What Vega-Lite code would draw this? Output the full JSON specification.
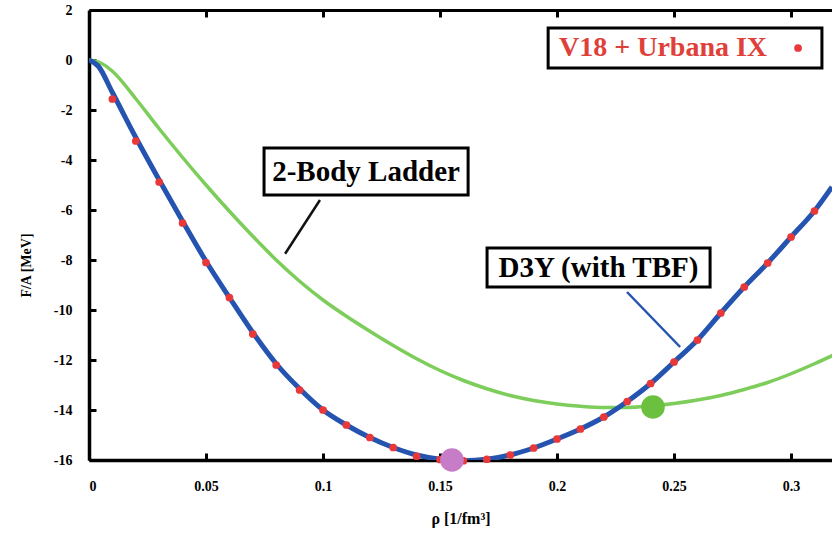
{
  "$schema": "https://vega.github.io/schema/vega-lite/v6.json",
  "width": 743,
  "height": 450,
  "autosize": "none",
  "padding": {"left": 89, "top": 10, "right": 0, "bottom": 82},
  "background": "white",
  "config": {
    "view": {"stroke": null},
    "axis": {"grid": false, "labelFont": "Liberation Serif", "labelFontWeight": "bold", "labelFontSize": 14, "labelColor": "black", "titleFont": "Liberation Serif", "titleFontWeight": "bold", "titleColor": "black"}
  },
  "datasets": {
    "v18": [
      {"rho": 0.01, "E": -1.56}, {"rho": 0.02, "E": -3.24}, {"rho": 0.03, "E": -4.88}, {"rho": 0.04, "E": -6.52},
      {"rho": 0.05, "E": -8.1}, {"rho": 0.06, "E": -9.5}, {"rho": 0.07, "E": -10.96}, {"rho": 0.08, "E": -12.2},
      {"rho": 0.09, "E": -13.2}, {"rho": 0.10, "E": -14.0}, {"rho": 0.11, "E": -14.6}, {"rho": 0.12, "E": -15.1},
      {"rho": 0.13, "E": -15.5}, {"rho": 0.14, "E": -15.85}, {"rho": 0.15, "E": -15.98}, {"rho": 0.16, "E": -16.03},
      {"rho": 0.17, "E": -15.97}, {"rho": 0.18, "E": -15.8}, {"rho": 0.19, "E": -15.52}, {"rho": 0.20, "E": -15.16},
      {"rho": 0.21, "E": -14.76}, {"rho": 0.22, "E": -14.28}, {"rho": 0.23, "E": -13.66}, {"rho": 0.24, "E": -12.94},
      {"rho": 0.25, "E": -12.08}, {"rho": 0.26, "E": -11.2}, {"rho": 0.27, "E": -10.12}, {"rho": 0.28, "E": -9.08},
      {"rho": 0.29, "E": -8.12}, {"rho": 0.30, "E": -7.08}, {"rho": 0.31, "E": -6.04}
    ],
    "d3y": [
      {"rho": 0.0, "E": 0.0}, {"rho": 0.004, "E": -0.25}, {"rho": 0.01, "E": -1.3}, {"rho": 0.02, "E": -3.1},
      {"rho": 0.03, "E": -4.8}, {"rho": 0.04, "E": -6.45}, {"rho": 0.05, "E": -8.05}, {"rho": 0.06, "E": -9.5},
      {"rho": 0.07, "E": -10.9}, {"rho": 0.08, "E": -12.15}, {"rho": 0.09, "E": -13.15}, {"rho": 0.10, "E": -14.0},
      {"rho": 0.11, "E": -14.6}, {"rho": 0.12, "E": -15.1}, {"rho": 0.13, "E": -15.5}, {"rho": 0.14, "E": -15.8},
      {"rho": 0.15, "E": -15.97}, {"rho": 0.16, "E": -16.03}, {"rho": 0.17, "E": -15.97}, {"rho": 0.18, "E": -15.8},
      {"rho": 0.19, "E": -15.52}, {"rho": 0.20, "E": -15.16}, {"rho": 0.21, "E": -14.76}, {"rho": 0.22, "E": -14.28},
      {"rho": 0.23, "E": -13.66}, {"rho": 0.24, "E": -12.94}, {"rho": 0.25, "E": -12.08}, {"rho": 0.26, "E": -11.2},
      {"rho": 0.27, "E": -10.12}, {"rho": 0.28, "E": -9.08}, {"rho": 0.29, "E": -8.12}, {"rho": 0.30, "E": -7.08},
      {"rho": 0.31, "E": -6.04}, {"rho": 0.3175, "E": -5.08}
    ],
    "ladder": [
      {"rho": 0.0, "E": 0.0}, {"rho": 0.005, "E": -0.12}, {"rho": 0.01, "E": -0.45}, {"rho": 0.02, "E": -1.55},
      {"rho": 0.03, "E": -2.75}, {"rho": 0.04, "E": -3.9}, {"rho": 0.05, "E": -5.0}, {"rho": 0.06, "E": -6.05},
      {"rho": 0.07, "E": -7.05}, {"rho": 0.08, "E": -8.0}, {"rho": 0.09, "E": -8.85}, {"rho": 0.10, "E": -9.6},
      {"rho": 0.11, "E": -10.25}, {"rho": 0.12, "E": -10.85}, {"rho": 0.13, "E": -11.42}, {"rho": 0.14, "E": -11.95},
      {"rho": 0.15, "E": -12.42}, {"rho": 0.16, "E": -12.82}, {"rho": 0.17, "E": -13.15}, {"rho": 0.18, "E": -13.42},
      {"rho": 0.19, "E": -13.62}, {"rho": 0.20, "E": -13.76}, {"rho": 0.21, "E": -13.85}, {"rho": 0.22, "E": -13.9},
      {"rho": 0.23, "E": -13.9}, {"rho": 0.24, "E": -13.84}, {"rho": 0.25, "E": -13.74}, {"rho": 0.26, "E": -13.6},
      {"rho": 0.27, "E": -13.42}, {"rho": 0.28, "E": -13.18}, {"rho": 0.29, "E": -12.9}, {"rho": 0.30, "E": -12.55},
      {"rho": 0.31, "E": -12.15}, {"rho": 0.32, "E": -11.72}
    ],
    "saturation": [
      {"rho": 0.1551, "E": -16.0, "model": "D3Y"},
      {"rho": 0.241, "E": -13.88, "model": "Ladder"}
    ],
    "boxes": [
      {"x1": 0.0748, "x2": 0.162, "y1": -3.52, "y2": -5.4, "name": "ladder"},
      {"x1": 0.1701, "x2": 0.2654, "y1": -7.52, "y2": -9.08, "name": "d3y"},
      {"x1": 0.1962, "x2": 0.3132, "y1": 1.28, "y2": -0.32, "name": "legend"}
    ],
    "leaders": [
      {"x1": 0.0987, "y1": -5.6, "x2": 0.0838, "y2": -7.75, "name": "ladder"},
      {"x1": 0.2299, "y1": -9.28, "x2": 0.2526, "y2": -11.48, "name": "d3y"}
    ],
    "labels": [
      {"rho": 0.1184, "E": -4.46, "text": "2-Body Ladder", "name": "ladder"},
      {"rho": 0.2177, "E": -8.3, "text": "D3Y (with TBF)", "name": "d3y"}
    ]
  },
  "resolve": {"axis": {"x": "independent"}, "scale": {"color": "independent"}},
  "layer": [
    {
      "data": {"name": "ladder"},
      "mark": {"type": "line", "color": "#7ccd5a", "strokeWidth": 3.5, "clip": true, "interpolate": "monotone"},
      "encoding": {
        "x": {"field": "rho", "type": "quantitative", "scale": {"domain": [0, 0.3175], "nice": false, "zero": false},
              "axis": {"orient": "bottom", "values": [0, 0.05, 0.1, 0.15, 0.2, 0.25, 0.3], "domainColor": "black", "domainWidth": 3.5, "tickColor": "black", "tickSize": -7, "tickWidth": 3, "labelPadding": 26, "labelExpr": "format(datum.value, '~g')", "title": "ρ  [1/fm³]", "titleFontSize": 16, "titlePadding": 17}},
        "y": {"field": "E", "type": "quantitative", "scale": {"domain": [-16, 2], "nice": false, "zero": false},
              "axis": {"orient": "left", "values": [2, 0, -2, -4, -6, -8, -10, -12, -14, -16], "domainColor": "black", "domainWidth": 3.5, "tickColor": "black", "tickSize": -7, "tickWidth": 3, "labelPadding": 24, "labelExpr": "replace(datum.label, '−', '-')", "title": "F/A [MeV]", "titleFontSize": 14, "titlePadding": 20, "titleY": 255}}
      }
    },
    {
      "data": {"name": "d3y"},
      "mark": {"type": "line", "color": "#2454b0", "strokeWidth": 5, "clip": true, "interpolate": "monotone"},
      "encoding": {
        "x": {"field": "rho", "type": "quantitative", "axis": {"orient": "top", "labels": false, "title": null, "values": [0.05, 0.1, 0.15, 0.2, 0.25, 0.3], "domainColor": "black", "domainWidth": 3, "tickColor": "black", "tickSize": -7, "tickWidth": 3}},
        "y": {"field": "E", "type": "quantitative"}
      }
    },
    {
      "data": {"name": "v18"},
      "mark": {"type": "circle", "color": "#e8383a", "size": 60, "opacity": 1},
      "encoding": {
        "x": {"field": "rho", "type": "quantitative", "axis": null},
        "y": {"field": "E", "type": "quantitative"}
      }
    },
    {
      "data": {"name": "saturation"},
      "mark": {"type": "circle", "size": 560, "opacity": 1},
      "encoding": {
        "x": {"field": "rho", "type": "quantitative", "axis": null},
        "y": {"field": "E", "type": "quantitative"},
        "color": {"field": "model", "type": "nominal", "scale": {"domain": ["D3Y", "Ladder"], "range": ["#c77cc8", "#6cc040"]}, "legend": null}
      }
    },
    {
      "data": {"name": "leaders"},
      "mark": {"type": "rule", "strokeWidth": 2.5},
      "encoding": {
        "x": {"field": "x1", "type": "quantitative", "axis": null},
        "y": {"field": "y1", "type": "quantitative"},
        "x2": {"field": "x2"},
        "y2": {"field": "y2"},
        "color": {"field": "name", "type": "nominal", "scale": {"domain": ["ladder", "d3y"], "range": ["#111111", "#2454b0"]}, "legend": null}
      }
    },
    {
      "data": {"name": "boxes"},
      "mark": {"type": "rect", "fill": "white", "stroke": "black", "strokeWidth": 3},
      "encoding": {
        "x": {"field": "x1", "type": "quantitative", "axis": null},
        "x2": {"field": "x2"},
        "y": {"field": "y1", "type": "quantitative"},
        "y2": {"field": "y2"}
      }
    },
    {
      "data": {"name": "labels"},
      "mark": {"type": "text", "font": "Liberation Serif", "fontWeight": "bold", "fontSize": 29, "color": "black", "align": "center", "baseline": "middle"},
      "encoding": {
        "x": {"field": "rho", "type": "quantitative", "axis": null},
        "y": {"field": "E", "type": "quantitative"},
        "text": {"field": "text"}
      }
    },
    {
      "data": {"values": [{"rho": 0.2453, "E": 0.48, "text": "V18 + Urbana IX"}]},
      "mark": {"type": "text", "font": "Liberation Serif", "fontWeight": "bold", "fontSize": 28, "color": "#e0403a", "align": "center", "baseline": "middle"},
      "encoding": {
        "x": {"field": "rho", "type": "quantitative", "axis": null},
        "y": {"field": "E", "type": "quantitative"},
        "text": {"field": "text"}
      }
    },
    {
      "data": {"values": [{"rho": 0.303, "E": 0.48}]},
      "mark": {"type": "circle", "color": "#e8383a", "size": 60, "opacity": 1},
      "encoding": {
        "x": {"field": "rho", "type": "quantitative", "axis": null},
        "y": {"field": "E", "type": "quantitative"}
      }
    }
  ]
}
